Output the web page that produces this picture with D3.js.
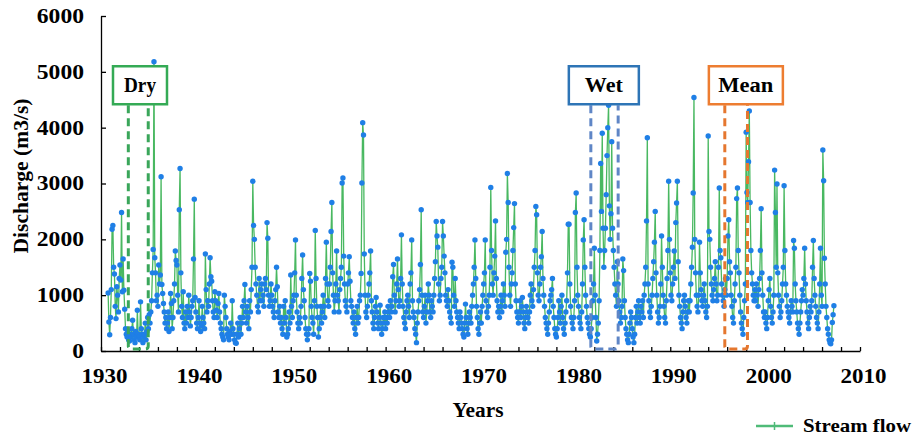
<!DOCTYPE html>
<html><head><meta charset="utf-8">
<script src="https://cdn.jsdelivr.net/npm/d3@7"></script>
<style>
body{margin:0;background:#fff}
svg text{font-family:"Liberation Serif","Times New Roman",serif;font-weight:bold;fill:#000}
</style>
</head><body>
<svg id="chart" width="917" height="437"></svg>
<script>
// Monthly stream flow (m3/s), starting October 1930
const flow1930s = [
 1040,520,290,
 600,1100,2180,2250,1500,1380,800,580,1150,1000,700,1300,
 1540,1270,2480,1060,1650,1090,750,400,300,250,350,200,
 180,300,250,400,550,300,200,150,350,250,730,300,
 250,200,880,400,300,150,250,300,500,200,350,600,
 400,650,500,700,900,1400,1820,5180,1670,1400,900,1000,
 800,1540,1200,1360,3120,1190,1030,850,700,500,600,400,
 500,700,350,600,1030,850,400,600,900,1200,1790,1620,
 1540,1000,700,2530,3270,1400,800,600,1060,500,400,700,
 500,800,600,1000,700,450,600,800,900,1650,2720,960
];
const flow1940s = [
 700,500,400,600,900,500,350,450,800,600,500,400,
 1740,1100,700,900,800,1200,1670,1330,1250,900,700,600,
 1060,900,730,600,850,1030,700,500,400,300,250,200,
 1000,800,600,400,300,250,200,350,500,300,900,400,
 300,200,150,140,300,500,250,400,600,300,500,800,
 600,900,1190,700,500,800,600,400,900,700,1100,1500,
 3040,2250,2000,1500,1200,1000,800,700,1300,900,1100,1200,
 900,1000,800,1200,1300,1100,2300,2020,1000,800,900,1200,
 1000,800,700,600,900,1100,1500,1150,700,600,800,500,
 600,400,300,800,500,900,600,250,300,400,700,500
];
const flow1950s = [
 1360,800,600,900,1000,1400,1990,1000,700,500,400,600,
 500,800,1300,1720,1100,900,600,400,300,200,300,400,
 1390,1250,800,600,500,300,900,2160,1300,800,600,250,
 400,600,800,500,700,1000,800,600,1300,1950,1200,900,
 800,1200,1500,2140,2660,1400,1000,700,900,1200,1790,1000,
 900,700,1100,1300,1500,3010,3100,1700,1200,900,800,700,
 1200,1400,1690,1250,900,800,600,500,700,400,300,600,
 800,500,600,900,1000,1390,3010,4090,3870,1740,1000,700,
 600,800,1000,1200,1400,1790,900,700,500,400,600,800,
 960,700,500,400,600,820,500,300,400,600,500,700
];
const flow1960s = [
 400,600,500,800,700,600,900,700,800,1330,1550,1000,
 700,900,1200,1650,1100,800,900,1300,2080,1200,800,600,
 500,400,700,900,1000,800,600,1200,1400,1990,900,700,
 600,400,300,150,500,700,900,1100,1550,2530,1000,700,
 600,800,1000,500,700,900,1200,1000,700,600,900,800,
 700,1000,1300,1600,2320,2060,1860,1200,900,1000,1300,1500,
 2320,2060,1700,1400,1000,900,800,1100,900,700,600,500,
 1590,1500,1000,800,1300,900,700,600,500,400,700,600,
 500,400,300,250,500,840,600,400,300,500,700,600,
 500,800,1000,1200,1500,1990,1300,800,600,400,300,500
];
const flow1970s = [
 700,500,800,1000,1200,1400,1990,900,700,600,800,1000,
 1500,2930,1800,1200,1000,1400,1700,2330,1300,900,700,800,
 600,800,1000,700,900,1200,1000,800,1770,2000,3180,2660,
 1500,1000,800,1200,1400,1800,2210,2640,1200,900,700,600,
 500,700,900,600,800,960,700,500,400,600,800,700,
 600,500,700,1000,1200,900,800,1100,1500,1800,2590,2440,
 1400,1000,900,1200,1500,1690,2140,1300,1000,800,600,500,
 400,300,500,700,900,1000,1100,1300,800,600,400,300,
 250,400,600,900,700,500,800,1000,600,400,300,500,
 700,900,1400,2270,2270,1200,800,600,500,400,600,900
];
const flow1980s = [
 2480,2830,1500,1000,800,600,500,400,700,1200,1990,2350,
 1500,1000,800,600,500,400,300,250,400,600,900,1200,
 1840,1000,600,180,300,500,900,1800,3360,2500,3900,2200,
 1500,1800,2200,2800,3500,4000,4400,2600,2000,2460,3750,2200,
 1800,1500,1200,1000,800,1600,1200,900,700,500,600,800,
 1650,1440,900,600,400,300,200,150,300,500,700,600,
 400,250,150,300,600,800,500,700,900,600,500,800,
 700,900,600,1000,1200,1500,2330,3820,1200,900,700,600,
 800,1000,1300,1600,1950,2500,1400,1000,700,500,600,800,
 1200,2060,1500,1000,800,600,500,900,1300,1800,3040,2000
];
const flow1990s = [
 1400,1000,900,1200,1500,1790,1300,2300,2650,3040,1600,1000,
 800,600,500,400,700,900,1000,800,600,500,700,900,
 700,900,1200,1500,1860,2830,4540,2000,1400,1000,800,700,
 1000,1950,1400,1100,900,800,1000,1200,900,700,600,800,
 3850,2140,2000,1500,1200,1000,900,1100,1300,1600,1200,900,
 1000,1500,2920,1800,1670,1200,1000,900,800,1100,1300,1000,
 1300,2060,2350,1600,1400,1000,800,600,500,900,1200,1500,
 2730,2920,1800,1400,1000,700,500,400,300,600,900,1200,
 3920,2840,2660,3390,4300,2660,1800,1400,1200,1000,900,1100,
 900,1200,1000,800,1100,1300,1800,2550,1400,1000,700,600
];
const flow2000s = [
 700,500,400,600,900,1100,1300,800,600,500,700,1000,
 3240,2480,1500,2990,1400,1000,800,600,700,900,1200,1500,
 2960,1800,1200,1000,800,700,600,500,700,900,800,700,
 1980,1840,1200,900,700,500,400,300,500,700,900,1100,
 1000,1300,1840,1200,900,700,500,400,600,800,700,900,
 1500,1980,1300,1000,800,600,500,400,700,1200,1840,1000,
 800,3600,3050,1660,1200,800,600,400,300,200,150,130,
 200,510,650,810
];
const seriesStart = 1930.75;           // October 1930
const seriesName = "Stream flow";
const yTickValues = [0,1000,2000,3000,4000,5000,6000];
const xTickLabels = [1930,1940,1950,1960,1970,1980,1990,2000,2010];
const periodLabels = ["Dry","Wet","Mean"];
const periodStart  = [1932.88,1981.63,1995.75];
const periodEnd    = [1934.98,1984.51,1998.14];
const periodBoxCenter = [1934.11,1983.0,1997.97];
const periodColors = ["#34aa55","#2e75b6","#ed7d31"];
const periodDash   = ["#3aa65a","#5f86c6","#e5772f"];

const flow = [].concat(flow1930s,flow1940s,flow1950s,flow1960s,flow1970s,flow1980s,flow1990s,flow2000s);
const data = flow.map((v,i)=>({t: seriesStart + i/12, v}));

const svg = d3.select("#chart");
const x = d3.scaleLinear().domain([1930,2010]).range([101,860]);
const y = d3.scaleLinear().domain([0,6000]).range([351,16]);

// series
svg.append("path").datum(data)
  .attr("fill","none").attr("stroke","#35b050").attr("stroke-width",1.3).attr("stroke-opacity",0.9)
  .attr("d", d3.line().x(d=>x(d.t)).y(d=>y(d.v)));
svg.append("g").selectAll("circle").data(data).join("circle")
  .attr("cx",d=>x(d.t)).attr("cy",d=>y(d.v)).attr("r",2.7).attr("fill","#1f7fe6");

// axes
const yAxis = d3.axisLeft(y).tickValues(yTickValues).tickSizeInner(-5).tickSizeOuter(0).tickPadding(17).tickFormat(d3.format("d"));
const gy = svg.append("g").attr("transform",`translate(${x(1930)},0)`).call(yAxis);
gy.selectAll("text").style("font-size","20px")
  .attr("textLength",d=>String(d).length*11.8).attr("lengthAdjust","spacingAndGlyphs");
const xMinor = d3.range(1930,2011,2);
const xAxis = d3.axisBottom(x).tickValues(xMinor).tickSizeInner(-4).tickSizeOuter(0)
  .tickFormat(d=> xTickLabels.includes(d) ? d : "").tickPadding(18);
const gx = svg.append("g").attr("transform",`translate(0,${y(0)})`).call(xAxis);
gx.selectAll("text").filter(d=>xTickLabels.includes(d))
  .style("font-size","20px").attr("dx",3).attr("textLength",46).attr("lengthAdjust","spacingAndGlyphs");
[gx,gy].forEach(g=>{g.selectAll("path,line").attr("stroke","#000").attr("stroke-width",1.3);});

// axis titles
svg.append("text").attr("transform",`translate(28,176) rotate(-90)`)
  .attr("text-anchor","middle").style("font-size","20px")
  .attr("textLength",155).attr("lengthAdjust","spacingAndGlyphs").text("Discharge (m3/s)");
svg.append("text").attr("x",478).attr("y",417)
  .attr("text-anchor","middle").style("font-size","20px")
  .attr("textLength",51).attr("lengthAdjust","spacingAndGlyphs").text("Years");

// period annotations
const boxW = [54,70,74];
const labelW = [32,38,55];
periodLabels.forEach((lab,i)=>{
  const x1 = x(periodStart[i]), x2 = x(periodEnd[i]);
  const top = y(5100)+39, bot = y(0)-2;
  svg.append("path")
    .attr("d",`M${x1},${top} L${x1},${bot-3} Q${x1},${bot} ${x1+3},${bot} L${x2-3},${bot} Q${x2},${bot} ${x2},${bot-3} L${x2},${top}`)
    .attr("fill","none").attr("stroke",periodDash[i]).attr("stroke-width",3).attr("stroke-dasharray","8,5");
  const cx = x(periodBoxCenter[i]);
  svg.append("rect").attr("x",cx-boxW[i]/2).attr("y",y(5100)).attr("width",boxW[i]).attr("height",38)
    .attr("fill","#fff").attr("stroke",periodColors[i]).attr("stroke-width",2.5);
  svg.append("text").attr("x",cx).attr("y",y(5100)+26).attr("text-anchor","middle")
    .style("font-size","20px").attr("textLength",labelW[i]).attr("lengthAdjust","spacingAndGlyphs").text(lab);
});

// legend
svg.append("line").attr("x1",756).attr("x2",793).attr("y1",426).attr("y2",426)
  .attr("stroke","#4fbb78").attr("stroke-width",2.5);
svg.append("line").attr("x1",774.5).attr("x2",774.5).attr("y1",422).attr("y2",430)
  .attr("stroke","#4fbb78").attr("stroke-width",1.5);
svg.append("text").attr("x",803).attr("y",432).style("font-size","19px")
  .attr("textLength",108).attr("lengthAdjust","spacingAndGlyphs").text(seriesName);
</script>
</body></html>
